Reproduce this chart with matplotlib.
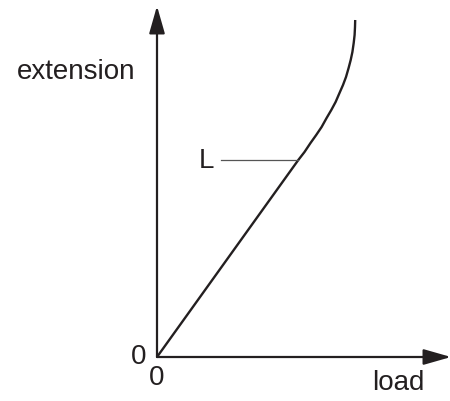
import matplotlib
matplotlib.use("Agg")
import matplotlib.pyplot as plt

plt.rcParams['font.family'] = ['Liberation Sans', 'DejaVu Sans']

# Curve data (load vs extension), arbitrary units
load = [0, 141.3, 147.5, 153.5, 159.2, 164.6, 169.6, 174.3, 178.6, 182.5, 186.0,
        189.0, 191.6, 193.7, 195.4, 196.7, 197.6, 198.0, 198.2]
extension = [0, 197, 205, 214, 222, 230, 239, 247, 255, 264, 272,
             280, 289, 297, 305, 314, 322, 330, 337]
L_point = (141.3, 197)
L_label_x = 64
x_axis_end = 294
y_axis_end = 351

fig = plt.figure(figsize=(4.5, 4.01), dpi=100)
ax = fig.add_axes([0, 0, 1, 1])
ax.set_xlim(-157, 293)
ax.set_ylim(-44, 357)
ax.axis('off')

ink = '#231f20'
arrow_kw = dict(arrowstyle='-|>,head_length=1.05,head_width=0.3', color=ink,
                lw=1.6, mutation_scale=16, shrinkA=0, shrinkB=0)
ax.annotate('', xy=(0, y_axis_end), xytext=(0, 0), arrowprops=arrow_kw,
            annotation_clip=False)
ax.annotate('', xy=(x_axis_end, 0), xytext=(0, 0), arrowprops=arrow_kw,
            annotation_clip=False)

ax.plot(load, extension, color=ink, lw=1.7, solid_capstyle='butt',
        solid_joinstyle='round')

ax.plot([L_label_x, L_point[0]], [L_point[1], L_point[1]], color='#555555', lw=0.9)
ax.text(L_label_x - 7, L_point[1] - 1, 'L', fontsize=20, color=ink,
        ha='right', va='center')

ax.text(-11, 0, '0', fontsize=20, color=ink, ha='right', va='center')
ax.text(0, -21, '0', fontsize=20, color=ink, ha='center', va='center')
ax.text(241, -26, 'load', fontsize=20, color=ink, ha='center', va='center')
ax.text(-81, 285, 'extension', fontsize=20, color=ink, ha='center', va='center')

fig.savefig('out.png', dpi=100)
